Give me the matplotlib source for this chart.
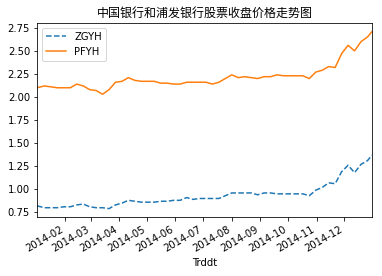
import pandas as pd
import matplotlib
matplotlib.use("Agg")
import matplotlib.pyplot as plt
import matplotlib.dates as mdates

# weekly closing prices (2014)
dates = ([pd.Timestamp("2014-01-02")]
         + list(pd.date_range("2014-01-10", "2014-12-26", freq="W-FRI"))
         + [pd.Timestamp("2014-12-31")])

zgyh = [0.82, 0.80, 0.80, 0.80, 0.81,
        0.81, 0.83, 0.84, 0.81,
        0.80, 0.80, 0.79, 0.83,
        0.85, 0.88, 0.87, 0.86,
        0.86, 0.86, 0.87, 0.87, 0.88,
        0.88, 0.91, 0.89, 0.90,
        0.90, 0.90, 0.90, 0.93,
        0.96, 0.96, 0.96, 0.96, 0.94,
        0.96, 0.96, 0.95, 0.95,
        0.95, 0.95, 0.95, 0.93, 0.99,
        1.02, 1.07, 1.06, 1.19,
        1.26, 1.18, 1.27, 1.31,
        1.37]

pfyh = [2.10, 2.12, 2.11, 2.10, 2.10,
        2.10, 2.14, 2.12, 2.08,
        2.07, 2.03, 2.08, 2.16,
        2.17, 2.21, 2.18, 2.17,
        2.17, 2.17, 2.15, 2.15, 2.14,
        2.14, 2.16, 2.16, 2.16,
        2.16, 2.14, 2.16, 2.20,
        2.24, 2.21, 2.22, 2.21, 2.20,
        2.22, 2.22, 2.24, 2.23,
        2.23, 2.23, 2.23, 2.20, 2.27,
        2.29, 2.33, 2.32, 2.47,
        2.56, 2.50, 2.60, 2.65,
        2.71]

title = "中国银行和浦发银行股票收盘价格走势图"

fig, ax = plt.subplots(figsize=(382 / 72, 276 / 72), dpi=72)
fig.subplots_adjust(left=0.097, right=0.974, top=0.918, bottom=0.212)

ax.plot(dates, zgyh, "--", label="ZGYH")
ax.plot(dates, pfyh, "-", label="PFYH")

ax.set_xlim(dates[0], dates[-1])
ax.xaxis.set_major_locator(mdates.MonthLocator())
ax.xaxis.set_major_formatter(mdates.DateFormatter("%Y-%m"))
for lbl in ax.get_xticklabels():
    lbl.set_rotation(30)
    lbl.set_ha("right")

ax.set_xlabel("Trddt")
ax.set_title(title, family=["Noto Sans CJK SC", "DejaVu Sans"])
ax.legend(loc="upper left")

fig.savefig("out.png", dpi=72)
